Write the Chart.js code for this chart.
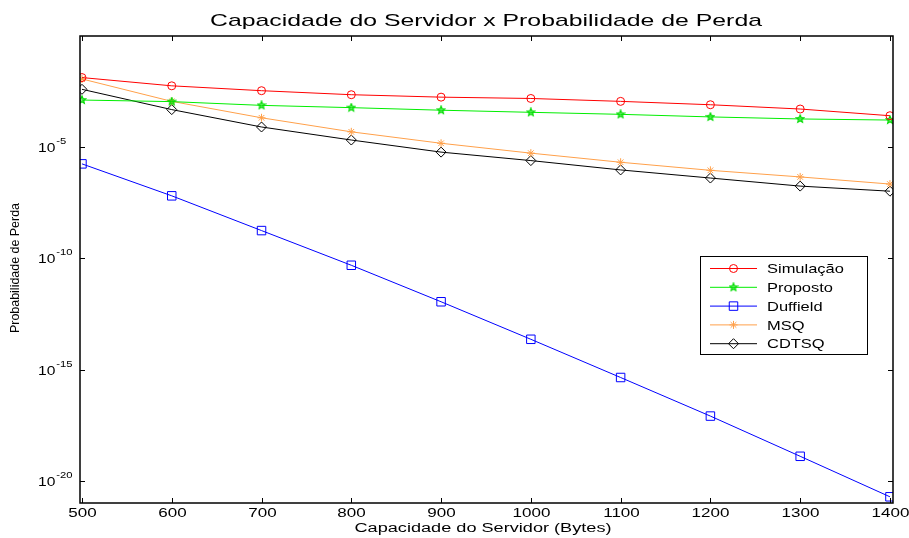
<!DOCTYPE html>
<html>
<head>
<meta charset="utf-8">
<script src="https://cdn.jsdelivr.net/npm/chart.js@4/dist/chart.umd.min.js"></script>
<style>
    html, body { margin: 0; padding: 0; background: #fff; }
</style>
</head>
<body>
<canvas id="grafico" width="909" height="538"></canvas>
<script>
// --- DATA ---
const capacidade = [500, 600, 700, 800, 900, 1000, 1100, 1200, 1300, 1400];
const simulacao = [1.35e-2, 5.75e-3, 3.47e-3, 2.29e-3, 1.78e-3, 1.55e-3, 1.15e-3, 8.1e-4, 5.2e-4, 2.6e-4];
const proposto  = [1.32e-3, 1.12e-3, 7.6e-4, 6.0e-4, 4.6e-4, 3.7e-4, 3.0e-4, 2.3e-4, 1.86e-4, 1.66e-4];
const duffield  = [1.78e-6, 6.5e-8, 1.78e-9, 4.9e-11, 1.12e-12, 2.3e-14, 4.4e-16, 8.1e-18, 1.26e-19, 1.9e-21];
const msq       = [1.17e-2, 1.15e-3, 2.1e-4, 4.9e-5, 1.5e-5, 5.4e-6, 2.1e-6, 9.1e-7, 4.6e-7, 2.2e-7];
const cdtsq     = [4.0e-3, 4.9e-4, 8.1e-5, 2.1e-5, 6.0e-6, 2.5e-6, 9.5e-7, 4.1e-7, 1.78e-7, 1.05e-7];

const xTicks = [500, 600, 700, 800, 900, 1000, 1100, 1200, 1300, 1400];
const yTicks = [1e-5, 1e-10, 1e-15, 1e-20];
const yTickExp = ['-5', '-10', '-15', '-20'];

const FONT = 'Arial, "Liberation Sans", sans-serif';

// green pentagram marker (Chart.js has none built in)
function makePentagram(color, r) {
    const c = document.createElement('canvas');
    c.width = c.height = r * 2 + 2;
    const g = c.getContext('2d');
    g.beginPath();
    for (let i = 0; i < 10; i++) {
        const rad = i % 2 === 0 ? r : r * 0.45;
        const a = -Math.PI / 2 + i * Math.PI / 5;
        g.lineTo(r + 1 + rad * Math.cos(a), r + 1 + rad * Math.sin(a));
    }
    g.closePath();
    g.strokeStyle = color;
    g.lineWidth = 1.2;
    g.stroke();
    g.fillStyle = 'rgba(0,220,0,0.5)';
    g.fill();
    return c;
}
const pentagram = makePentagram('#00dd00', 4);

function serie(label, data, color, pointStyle, radius) {
    return {
        label,
        data: capacidade.map((x, i) => ({ x, y: data[i] })),
        borderColor: color,
        backgroundColor: color,
        borderWidth: 1,
        pointStyle,
        pointRadius: radius,
        pointBorderColor: color,
        pointBackgroundColor: 'rgba(0,0,0,0)',
        pointBorderWidth: 1,
        tension: 0
    };
}

const datasets = [
    serie('Simulação', simulacao, '#ff0000', 'circle', 4),
    serie('Proposto', proposto, '#00ee00', pentagram, 4),
    serie('Duffield', duffield, '#0000ff', 'rect', 6),
    serie('MSQ', msq, '#ffa04a', 'star', 4),
    serie('CDTSQ', cdtsq, '#000000', 'rectRot', 5)
];

// text drawn with horizontal stretch, like the reference image
function texto(ctx, str, x, y, size, align, sx) {
    ctx.save();
    ctx.font = size + 'px ' + FONT;
    ctx.textBaseline = 'middle';
    ctx.textAlign = 'left';
    const w = ctx.measureText(str).width * sx;
    let x0 = x;
    if (align === 'center') x0 = x - w / 2;
    if (align === 'right') x0 = x - w;
    ctx.translate(x0, y);
    ctx.scale(sx, 1);
    ctx.fillText(str, 0, 0);
    ctx.restore();
    return w;
}

function textoLargura(ctx, str, cx, y, size, largura) {
    ctx.save();
    ctx.font = size + 'px ' + FONT;
    const sx = largura / ctx.measureText(str).width;
    ctx.restore();
    texto(ctx, str, cx, y, size, 'center', sx);
}

const moldura = {
    id: 'moldura',
    afterDraw(chart) {
        const { ctx, chartArea: a, scales } = chart;
        ctx.save();
        ctx.fillStyle = '#000';
        ctx.strokeStyle = '#000';

        // ticks (inward, mirrored)
        ctx.lineWidth = 1;
        xTicks.forEach(v => {
            const px = Math.round(scales.x.getPixelForValue(v)) + 0.5;
            ctx.beginPath();
            ctx.moveTo(px, a.bottom); ctx.lineTo(px, a.bottom - 5);
            ctx.moveTo(px, a.top); ctx.lineTo(px, a.top + 5);
            ctx.stroke();
            texto(ctx, String(v), px, a.bottom + 11, 12.5, 'center', 1.36);
        });
        yTicks.forEach((v, i) => {
            const py = Math.round(scales.y.getPixelForValue(v)) + 0.5;
            ctx.beginPath();
            ctx.moveTo(a.left, py); ctx.lineTo(a.left + 5, py);
            ctx.moveTo(a.right, py); ctx.lineTo(a.right - 5, py);
            ctx.stroke();
            const w = texto(ctx, '10', 38, py + 1, 13, 'left', 1.2);
            texto(ctx, yTickExp[i], 38 + w + 1, py - 6, 9, 'left', 1.25);
        });

        // axes box
        ctx.lineWidth = 1.5;
        ctx.strokeRect(a.left, a.top, a.right - a.left, a.bottom - a.top);

        // titles
        textoLargura(ctx, 'Capacidade do Servidor x Probabilidade de Perda', 486, 21, 17, 552);
        textoLargura(ctx, 'Capacidade do Servidor (Bytes)', 483, 529, 12, 257);
        ctx.save();
        ctx.translate(15, 268);
        ctx.rotate(-Math.PI / 2);
        textoLargura(ctx, 'Probabilidade de Perda', 0, 0, 13.5, 130);
        ctx.restore();

        // legend
        const lx = 700, ly = 256, lw = 167, lh = 98;
        ctx.fillStyle = '#fff';
        ctx.fillRect(lx, ly, lw, lh);
        ctx.lineWidth = 1;
        ctx.strokeRect(lx + 0.5, ly + 0.5, lw, lh);
        chart.data.datasets.forEach((ds, i) => {
            const y = ly + 12.5 + i * 18.8;
            ctx.strokeStyle = ds.borderColor;
            ctx.lineWidth = 1;
            ctx.beginPath();
            ctx.moveTo(710, y); ctx.lineTo(757, y);
            ctx.stroke();
            ctx.fillStyle = 'rgba(0,0,0,0)';
            Chart.helpers.drawPoint(ctx, {
                pointStyle: ds.pointStyle, radius: ds.pointRadius,
                rotation: 0, borderWidth: 1
            }, 733.5, y);
            ctx.fillStyle = '#000';
            texto(ctx, ds.label, 767, y + 1, 13.5, 'left', 1.22);
        });
        ctx.restore();
    }
};

new Chart(document.getElementById('grafico'), {
    type: 'line',
    data: { datasets },
    options: {
        responsive: false,
        animation: false,
        layout: { padding: { top: 36, right: 16, left: 0, bottom: 0 } },
        plugins: {
            legend: { display: false },
            title: { display: false },
            tooltip: { enabled: false }
        },
        scales: {
            x: {
                type: 'linear',
                min: 497.8,
                max: 1403.4,
                grid: { display: false },
                border: { display: false },
                ticks: { display: false },
                afterFit(s) { s.height = 35; }
            },
            y: {
                type: 'logarithmic',
                min: 1e-21,
                max: 1,
                grid: { display: false },
                border: { display: false },
                ticks: { display: false },
                afterFit(s) { s.width = 80; }
            }
        }
    },
    plugins: [moldura]
});
</script>
</body>
</html>
